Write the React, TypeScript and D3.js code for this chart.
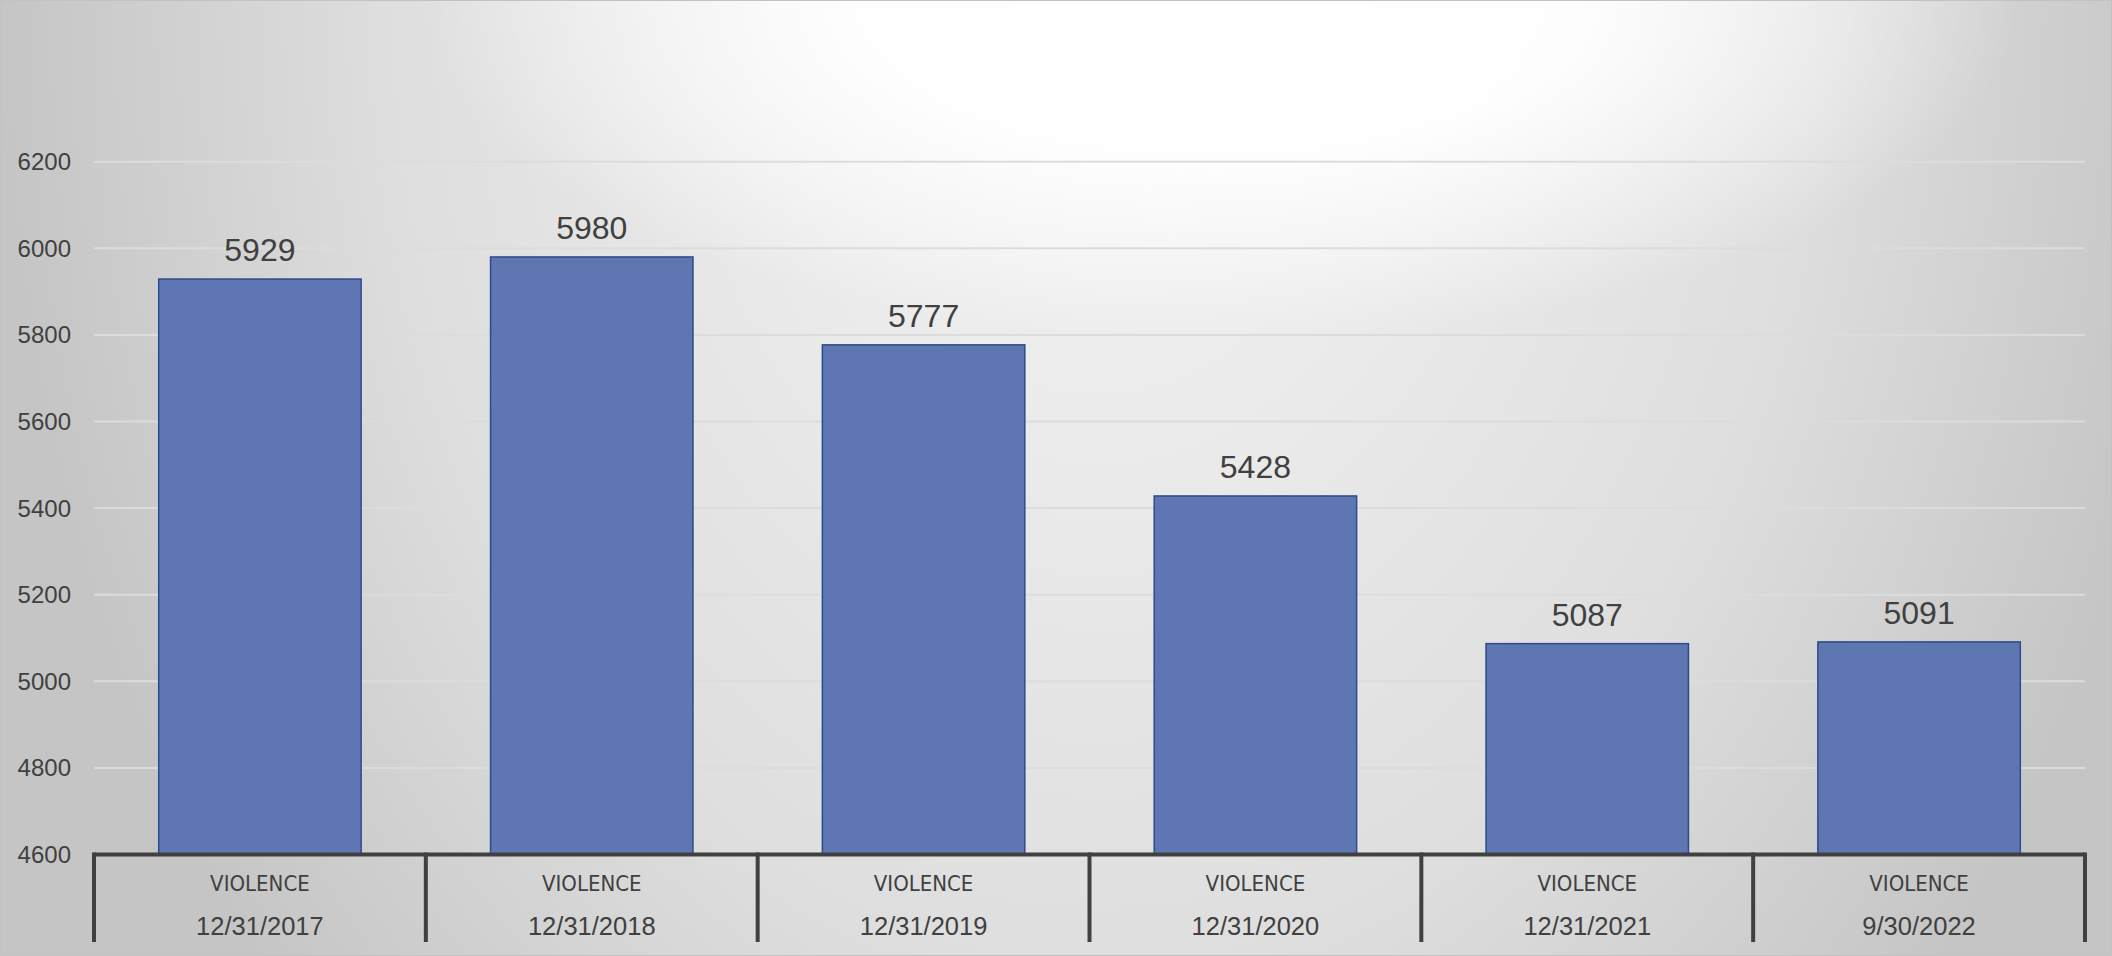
import React from "react";
import * as d3 from "d3";

const categories = ["VIOLENCE", "VIOLENCE", "VIOLENCE", "VIOLENCE", "VIOLENCE", "VIOLENCE"];
const dates = ["12/31/2017", "12/31/2018", "12/31/2019", "12/31/2020", "12/31/2021", "9/30/2022"];
const values = [5929, 5980, 5777, 5428, 5087, 5091];
const yTicks = [4600, 4800, 5000, 5200, 5400, 5600, 5800, 6000, 6200];

const W = 2112;
const H = 956;
const left = 94;
const right = 2085;
const yTop = 161.7;
const yBottom = 854.5;

export default function App() {
  const keys = dates.map((d, i) => `${i}`);
  const x = d3.scaleBand<string>().domain(keys).range([left, right]).paddingInner(0.39).paddingOuter(0.195);
  const xb = d3.scaleBand<string>().domain(keys).range([left, right]);
  const y = d3.scaleLinear().domain([4600, 6200]).range([yBottom, yTop]);
  const bands = xb.bandwidth();
  const tickColor = "#404040";

  return (
    <svg width={W} height={H} style={{ position: "absolute", left: 0, top: 0, display: "block" }}>
      <defs>
        <radialGradient
          id="bg"
          gradientUnits="userSpaceOnUse"
          cx={0}
          cy={0}
          r={1}
          gradientTransform="translate(1100,0) scale(1100,1500)"
        >
          <stop offset="0" stopColor="#f3f3f3" />
          <stop offset="0.3" stopColor="#ebebeb" />
          <stop offset="0.65" stopColor="#dedede" />
          <stop offset="1" stopColor="#c5c5c5" />
        </radialGradient>
        <radialGradient
          id="glow"
          gradientUnits="userSpaceOnUse"
          cx={0}
          cy={0}
          r={1}
          gradientTransform="translate(1220,0) scale(800,340)"
        >
          <stop offset="0" stopColor="#ffffff" stopOpacity={1} />
          <stop offset="0.45" stopColor="#ffffff" stopOpacity={0.95} />
          <stop offset="1" stopColor="#ffffff" stopOpacity={0} />
        </radialGradient>
      </defs>
      <rect x={0} y={0} width={W} height={H} fill="url(#bg)" />
      <rect x={0} y={0} width={W} height={H} fill="url(#glow)" />
      <rect x={0.5} y={0.5} width={W - 1} height={H - 1} fill="none" stroke="#c2c2c2" strokeWidth={1} />
      {yTicks.map((t) =>
        t === 4600 ? null : (
          <line key={"g" + t} x1={left} x2={right} y1={y(t)} y2={y(t)} stroke="#dcdcdc" strokeWidth={2} />
        )
      )}
      {yTicks.map((t) => (
        <text
          key={"t" + t}
          x={71}
          y={y(t)}
          dy="0.35em"
          textAnchor="end"
          fontFamily="Liberation Sans, Arial, sans-serif"
          fontSize={24}
          fill={tickColor}
        >
          {t}
        </text>
      ))}
      {values.map((v, i) => {
        const bx = x(keys[i])!;
        return (
          <g key={"b" + i}>
            <rect
              x={bx}
              y={y(v)}
              width={x.bandwidth()}
              height={yBottom - y(v)}
              fill="#5e77b3"
              stroke="#2f4a88"
              strokeWidth={1.5}
            />
            <text
              x={bx + x.bandwidth() / 2}
              y={y(v) - 18}
              textAnchor="middle"
              fontFamily="Liberation Sans, Arial, sans-serif"
              fontSize={32}
              fill="#404040"
            >
              {v}
            </text>
          </g>
        );
      })}
      <line x1={left} x2={right} y1={yBottom} y2={yBottom} stroke="#404040" strokeWidth={4} />
      {d3.range(keys.length + 1).map((i) => {
        const lx = i < keys.length ? xb(keys[i])! : right;
        return <line key={"s" + i} x1={lx} x2={lx} y1={yBottom - 2} y2={942} stroke="#404040" strokeWidth={4} />;
      })}
      {categories.map((c, i) => {
        const cx = xb(keys[i])! + bands / 2;
        return (
          <g key={"c" + i}>
            <text
              x={cx}
              y={891}
              textAnchor="middle"
              fontFamily="DejaVu Sans"
              fontStretch="condensed"
              style={{ fontStretch: "condensed" }}
              fontSize={22}
              fill={tickColor}
            >
              {c}
            </text>
            <text
              x={cx}
              y={935}
              textAnchor="middle"
              fontFamily="Liberation Sans, Arial, sans-serif"
              fontSize={25.5}
              fill={tickColor}
            >
              {dates[i]}
            </text>
          </g>
        );
      })}
    </svg>
  );
}
